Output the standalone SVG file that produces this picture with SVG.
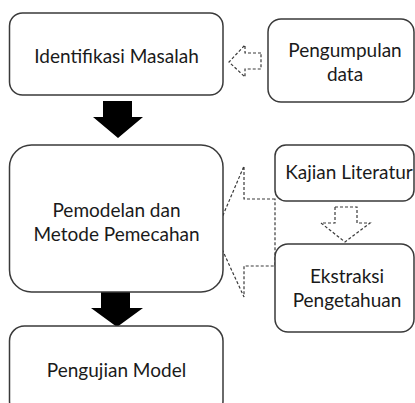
<svg xmlns="http://www.w3.org/2000/svg" width="415" height="403" viewBox="0 0 415 403">
  <style>
    .box { fill: #ffffff; stroke: #3a3a3a; stroke-width: 1.5; }
    .lbl { font-family: Lato, "Open Sans", "Liberation Sans", sans-serif; font-size: 19px; fill: #1a1a1a; text-anchor: middle; }
    .dash { fill: #ffffff; stroke: #3a3a3a; stroke-width: 1.2; stroke-dasharray: 3 2; stroke-linejoin: miter; }
    .solid { fill: #000000; stroke: none; }
  </style>
  <rect width="415" height="403" fill="#ffffff"/>
  <g id="connectors">
    <path class="solid" d="M103,101 L132,101 L132,117 L143,117 L118,138 L93,117 L103,117 Z"/>
    <path class="solid" d="M101,292 L130,292 L130,308 L143,308 L117,327 L91,308 L101,308 Z"/>
    <path class="dash" d="M261,53 L245,53 L245,45 L229,62 L245,77 L245,69 L261,69 Z"/>
    <path class="dash" d="M275,199 L244,199 L244,166 L215,234 L244,297 L244,266 L275,266 Z"/>
    <path class="dash" d="M335,207 L357,207 L357,223 L370,223 L345,242 L321,223 L335,223 Z"/>
  </g>
  <g id="n-identifikasi">
    <rect class="box" x="9.5" y="13" width="213.5" height="82" rx="13"/>
    <text class="lbl" x="116.5" y="63">Identifikasi Masalah</text>
  </g>
  <g id="n-pengumpulan">
    <rect class="box" x="268" y="19" width="146" height="83" rx="13"/>
    <text class="lbl" x="345" y="57">Pengumpulan</text>
    <text class="lbl" x="345" y="81">data</text>
  </g>
  <g id="n-pemodelan">
    <rect class="box" x="9.5" y="145" width="213.5" height="147" rx="22"/>
    <text class="lbl" x="116.5" y="217">Pemodelan dan</text>
    <text class="lbl" x="116.5" y="241">Metode Pemecahan</text>
  </g>
  <g id="n-kajian">
    <rect class="box" x="275" y="145" width="139" height="56" rx="11"/>
    <text class="lbl" x="349" y="179" font-size="18.5">Kajian Literatur</text>
  </g>
  <g id="n-ekstraksi">
    <rect class="box" x="275" y="244" width="139" height="88" rx="13"/>
    <text class="lbl" x="347" y="283">Ekstraksi</text>
    <text class="lbl" x="347" y="307">Pengetahuan</text>
  </g>
  <g id="n-pengujian">
    <rect class="box" x="9.5" y="326" width="213.5" height="90" rx="15"/>
    <text class="lbl" x="116.5" y="377">Pengujian Model</text>
  </g>
</svg>
